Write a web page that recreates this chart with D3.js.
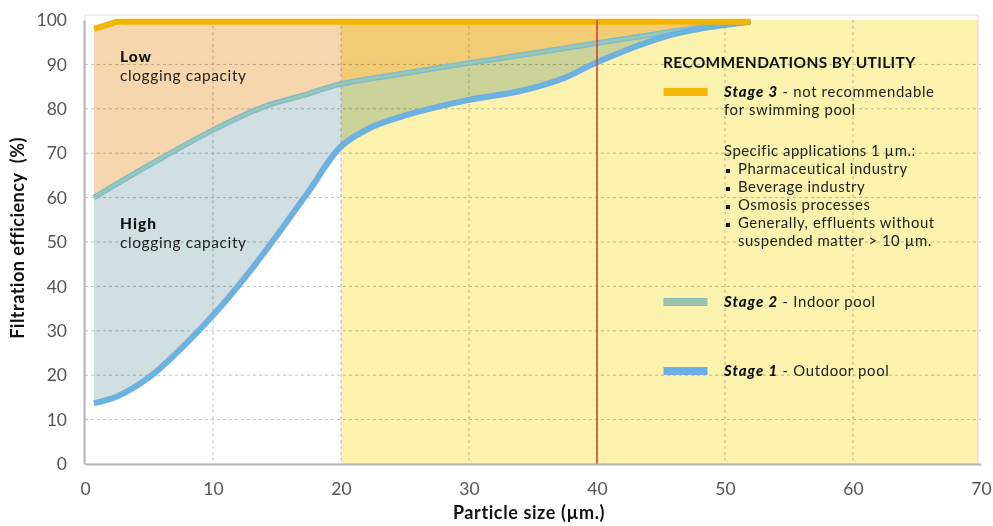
<!DOCTYPE html>
<html>
<head>
<meta charset="utf-8">
<script src="https://cdn.jsdelivr.net/npm/d3@7"></script>
<style>
  body { margin: 0; background: #fff; }
  svg text { font-family: Lato, "Open Sans", sans-serif; }
</style>
</head>
<body>
<div id="chart"></div>
<script>
// data
var xTicks = [0, 10, 20, 30, 40, 50, 60, 70];
var yTicks = [0, 10, 20, 30, 40, 50, 60, 70, 80, 90, 100];

var stage1X = [0.7, 2.5, 5, 7.5, 10, 12.5, 15, 17.5, 20, 22.5, 25, 30, 34, 37.5, 40, 45, 48, 52];
var stage1Y = [13.7, 15.2, 19.5, 26, 33.5, 42, 51.5, 61.5, 71.5, 76, 78.5, 82, 84, 87, 90.5, 96, 98, 99.6];

var stage2X = [0.7, 5, 10, 14, 17, 20, 25, 30, 35, 40, 45, 48, 52];
var stage2Y = [60, 67.3, 75.2, 80.5, 83, 85.6, 88, 90.3, 92.5, 94.8, 97, 98.4, 99.6];

var stage3X = [0.7, 2.5, 52];
var stage3Y = [98, 99.6, 99.6];

var yellowFrom = 20, yellowTo = 70;
var limitX = 40;

var legendItems = ["Stage 3", "Stage 2", "Stage 1"];
var legendText = [" - not recommendable", " - Indoor pool", " - Outdoor pool"];
var bulletItems = ["Pharmaceutical industry", "Beverage industry", "Osmosis processes", "Generally, effluents without"];

function filtrationChart(){
	var width = 993, height = 526;
	var left = 85, right = 981, top = 20, bottom = 464;

	var x = d3.scaleLinear().domain([0, 70]).range([left, right]);
	var y = d3.scaleLinear().domain([0, 100]).range([bottom, top]);

	var s1 = stage1X.map(function(d,i){ return [d, stage1Y[i]]; });
	var s2 = stage2X.map(function(d,i){ return [d, stage2Y[i]]; });
	var s3 = stage3X.map(function(d,i){ return [d, stage3Y[i]]; });

	var svg = d3.select("#chart")
				.append("svg")
				.attr("width", width)
				.attr("height", height);

	// faint frame
	svg.append("rect")
		.attr("x", x(0)).attr("y", top - 5)
		.attr("width", x(70) - x(0) - 3).attr("height", bottom - top + 5)
		.attr("fill", "none")
		.attr("stroke", "#ececec")
		.attr("stroke-width", 1.5);

	var curve = d3.curveCatmullRom.alpha(0.5);

	// top of orange band follows stage 3 line
	function topAt(v){
		if(v <= stage3X[1]) return stage3Y[0] + (stage3Y[1]-stage3Y[0])*(v-stage3X[0])/(stage3X[1]-stage3X[0]);
		return stage3Y[1];
	}

	// Low clogging capacity (orange)
	var areaLow = d3.area()
		.x(function(d){ return x(d[0]); })
		.y0(function(d){ return y(d[1]); })
		.y1(function(d){ return y(topAt(d[0])); })
		.curve(curve);
	svg.append("path")
		.datum(s2)
		.attr("d", areaLow)
		.attr("fill", "#f6d6ad");

	// High clogging capacity (blue-grey) between stage 1 and stage 2
	var lineGen = d3.line().x(function(d){ return x(d[0]); }).y(function(d){ return y(d[1]); }).curve(curve);
	var band = lineGen(s2) + "L" + lineGen(s1.slice().reverse()).slice(1) + "Z";
	svg.append("path")
		.attr("d", band)
		.attr("fill", "#cfdfe2");

	// grid
	var grid = svg.append("g").style("mix-blend-mode", "multiply");
	grid.selectAll(".hg")
		.data(yTicks.filter(function(d){ return d > 0 && d < 100; }))
		.enter().append("line")
		.attr("x1", x(0)).attr("x2", x(70))
		.attr("y1", function(d){ return y(d); })
		.attr("y2", function(d){ return y(d); })
		.attr("stroke", "#c2c2c2")
		.attr("stroke-width", 1)
		.attr("stroke-dasharray", "3,3");
	grid.selectAll(".vg")
		.data(xTicks.filter(function(d){ return d > 0 && d < 70; }))
		.enter().append("line")
		.attr("x1", function(d){ return x(d); })
		.attr("x2", function(d){ return x(d); })
		.attr("y1", y(100)).attr("y2", y(0))
		.attr("stroke", "#c2c2c2")
		.attr("stroke-width", 1)
		.attr("stroke-dasharray", "3,3");

	// yellow zone, multiplied over fills
	svg.append("rect")
		.attr("x", x(yellowFrom))
		.attr("y", y(100))
		.attr("width", x(yellowTo) - x(yellowFrom) - 3)
		.attr("height", y(0) - y(100))
		.attr("fill", "#fbf2ad")
		.style("mix-blend-mode", "multiply");

	// stage lines
	svg.append("path").datum(s2).attr("d", lineGen)
		.attr("fill", "none").attr("stroke", "#7fb9c9").attr("stroke-width", 5.5);
	svg.append("path").datum(s2).attr("d", lineGen)
		.attr("fill", "none").attr("stroke", "#95c8b8").attr("stroke-width", 3);

	svg.append("path").datum(s1).attr("d", lineGen)
		.attr("fill", "none").attr("stroke", "#7aa9e0").attr("stroke-width", 6);
	svg.append("path").datum(s1).attr("d", lineGen)
		.attr("fill", "none").attr("stroke", "#66b6e2").attr("stroke-width", 3.5);

	svg.append("path").datum(s3)
		.attr("d", d3.line().x(function(d){ return x(d[0]); }).y(function(d){ return y(d[1]); }))
		.attr("fill", "none").attr("stroke", "#f2b705").attr("stroke-width", 6);

	// limit line
	svg.append("line")
		.attr("x1", x(limitX)).attr("x2", x(limitX))
		.attr("y1", y(100)).attr("y2", y(0))
		.attr("stroke", "#c8402e")
		.attr("stroke-width", 1.5);

	// axes
	var xAxis = d3.axisBottom(x).tickValues(xTicks).tickSize(0).tickPadding(19);
	var yAxis = d3.axisLeft(y).tickValues(yTicks).tickSize(0).tickPadding(17);

	var gx = svg.append("g").attr("transform", "translate(0," + bottom + ")").call(xAxis);
	var gy = svg.append("g").attr("transform", "translate(" + (left - 1) + ",0)").call(yAxis);
	[gx, gy].forEach(function(g){
		g.select(".domain").attr("stroke", "#b5b5b5").attr("stroke-width", 2);
		g.selectAll("text")
			.style("font-family", "Lato")
			.style("font-size", "17.5px")
			.attr("fill", "#555");
	});

	svg.append("text")
		.attr("x", 529).attr("y", 519)
		.attr("text-anchor", "middle")
		.style("font-size", "18px").style("font-weight", "bold")
		.style("letter-spacing", "0.6px")
		.attr("fill", "#111")
		.text("Particle size (µm.)");

	svg.append("text")
		.attr("transform", "translate(24,238) rotate(-90)")
		.attr("text-anchor", "middle")
		.style("font-size", "18px").style("font-weight", "bold")
		.style("letter-spacing", "0.5px")
		.attr("fill", "#111")
		.attr("xml:space", "preserve")
		.text("Filtration efficiency  (%)");

	// region labels
	function regionLabel(bold, yy){
		svg.append("text").attr("x", 120).attr("y", yy)
			.style("font-size", "15.5px").style("font-weight", "900")
			.style("letter-spacing", "1px")
			.attr("fill", "#111").text(bold);
		svg.append("text").attr("x", 120).attr("y", yy + 19)
			.style("font-size", "15.5px").style("letter-spacing", "0.6px")
			.attr("fill", "#222").text("clogging capacity");
	}
	regionLabel("Low", 62);
	regionLabel("High", 229);

	// legend
	var lx = 663, tx = 724;
	svg.append("text").attr("x", lx).attr("y", 68)
		.style("font-size", "15.5px").style("font-weight", "bold")
		.style("letter-spacing", "0.35px")
		.attr("fill", "#111")
		.text("RECOMMENDATIONS BY UTILITY");

	var swatchY = [92, 302, 371];
	var swatchColor = ["#f2b705", "#9dc4b0", "#66b2e6"];
	var swatchEdge = ["#f2b705", "#8cbcc0", "#7aa6e2"];

	legendItems.forEach(function(item, i){
		svg.append("rect")
			.attr("x", lx + 1).attr("y", swatchY[i] - 3.5)
			.attr("width", 43).attr("height", 7)
			.attr("fill", swatchColor[i])
			.attr("stroke", swatchEdge[i]).attr("stroke-width", 1);
		var t = svg.append("text").attr("x", tx).attr("y", swatchY[i] + 5)
			.style("font-size", "14.9px").attr("fill", "#111");
		t.append("tspan").style("font-weight", "900").style("font-style", "italic")
			.style("letter-spacing", "1px").text(item);
		t.append("tspan").attr("fill", "#222").style("letter-spacing", "0.65px").text(legendText[i]);
	});

	svg.append("text").attr("x", tx).attr("y", 115)
		.style("font-size", "14.9px").style("letter-spacing", "0.65px")
		.attr("fill", "#222").text("for swimming pool");

	svg.append("text").attr("x", tx).attr("y", 156)
		.style("font-size", "14.9px").style("letter-spacing", "0.5px")
		.attr("fill", "#222").text("Specific applications 1 µm.:");

	bulletItems.forEach(function(b, i){
		var by = 174 + i * 18;
		svg.append("rect").attr("x", tx + 2).attr("y", by - 5).attr("width", 4).attr("height", 4).attr("fill", "#111");
		svg.append("text").attr("x", tx + 14).attr("y", by)
			.style("font-size", "14.9px").style("letter-spacing", "0.55px")
			.attr("fill", "#222").text(b);
	});
	svg.append("text").attr("x", tx + 14).attr("y", 174 + 4 * 18)
		.style("font-size", "14.9px").style("letter-spacing", "0.55px")
		.attr("fill", "#222").text("suspended matter > 10 µm.");
}

filtrationChart();
</script>
</body>
</html>
